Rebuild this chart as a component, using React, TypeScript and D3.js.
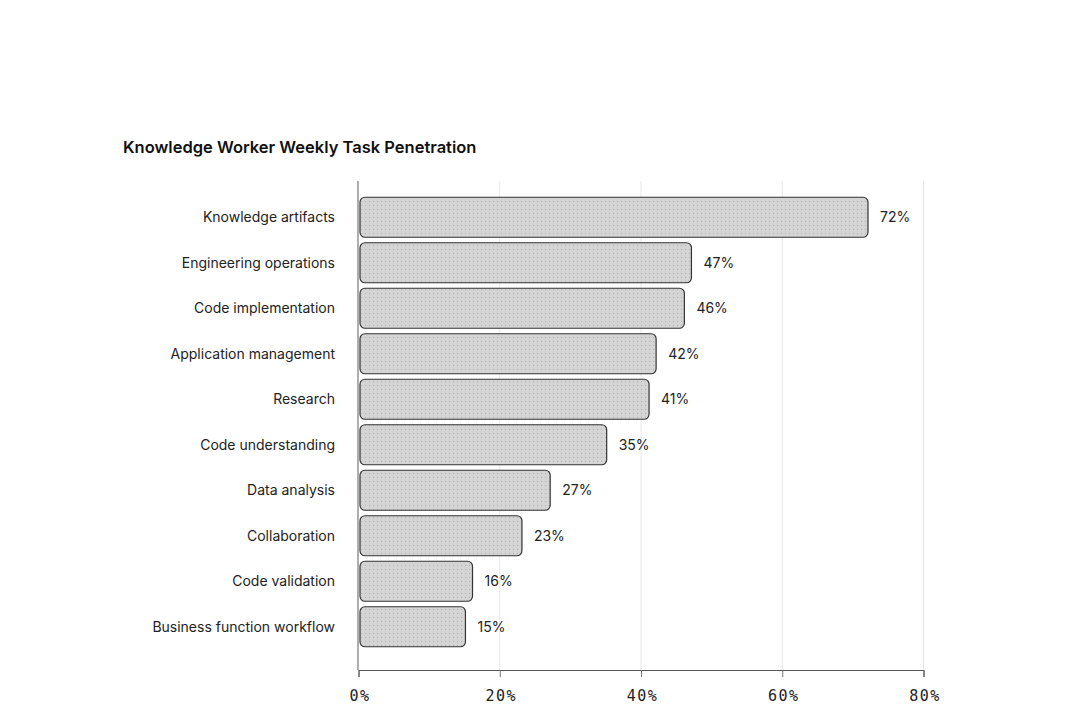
import React, { useEffect, useRef } from "react";
import * as d3 from "d3";

const categories = [
  "Knowledge artifacts",
  "Engineering operations",
  "Code implementation",
  "Application management",
  "Research",
  "Code understanding",
  "Data analysis",
  "Collaboration",
  "Code validation",
  "Business function workflow",
];
const values = [72, 47, 46, 42, 41, 35, 27, 23, 16, 15];
const ticks = [0, 20, 40, 60, 80];
const title = "Knowledge Worker Weekly Task Penetration";

const App = () => {
  const ref = useRef<SVGSVGElement>(null);

  useEffect(() => {
    const svg = d3.select(ref.current);
    svg.selectAll("*").remove();

    const x = d3.scaleLinear().domain([0, 80]).range([358.5, 923.5]);
    const y = d3
      .scaleBand()
      .domain(categories)
      .range([194.5, 649.5])
      .paddingInner(0.12)
      .paddingOuter(0.06);

    const defs = svg.append("defs");
    const pat = defs
      .append("pattern")
      .attr("id", "dots")
      .attr("width", 4)
      .attr("height", 4)
      .attr("patternUnits", "userSpaceOnUse");
    pat.append("rect").attr("width", 4).attr("height", 4).attr("fill", "#d4d4d4");
    pat.append("rect").attr("x", 1).attr("y", 1).attr("width", 1).attr("height", 1).attr("fill", "#b4b4b4");

    svg
      .append("text")
      .attr("x", 123)
      .attr("y", 153)
      .attr("font-family", "Inter, sans-serif")
      .attr("font-weight", 600)
      .attr("font-size", 16.5)
      .attr("fill", "#111")
      .text(title);

    // gridlines
    svg
      .append("g")
      .selectAll("line")
      .data(ticks.slice(1))
      .join("line")
      .attr("x1", (d) => x(d))
      .attr("x2", (d) => x(d))
      .attr("y1", 181)
      .attr("y2", 670)
      .attr("stroke", "#e8e8e8")
      .attr("stroke-width", 1);

    // bars
    svg
      .append("g")
      .selectAll("rect")
      .data(values)
      .join("rect")
      .attr("x", x(0) + 1.5)
      .attr("y", (d, i) => y(categories[i])!)
      .attr("width", (d) => x(d) - x(0) - 0.5)
      .attr("height", y.bandwidth())
      .attr("rx", 5)
      .attr("fill", "url(#dots)")
      .attr("stroke", "#333")
      .attr("stroke-width", 1.2);

    // value labels
    svg
      .append("g")
      .selectAll("text")
      .data(values)
      .join("text")
      .attr("x", (d) => x(d) + 13)
      .attr("y", (d, i) => y(categories[i])! + y.bandwidth() / 2)
      .attr("dy", "0.35em")
      .attr("font-family", "Inter, sans-serif")
      .attr("font-size", 14)
      .attr("fill", "#222")
      .text((d) => `${d}%`);

    // category labels
    svg
      .append("g")
      .selectAll("text")
      .data(categories)
      .join("text")
      .attr("x", 335)
      .attr("y", (d) => y(d)! + y.bandwidth() / 2)
      .attr("dy", "0.35em")
      .attr("text-anchor", "end")
      .attr("font-family", "Inter, sans-serif")
      .attr("font-size", 14)
      .attr("fill", "#222")
      .text((d) => d);

    // y axis line
    svg
      .append("line")
      .attr("x1", 358)
      .attr("x2", 358)
      .attr("y1", 181)
      .attr("y2", 670)
      .attr("stroke", "#777")
      .attr("stroke-width", 1.2);

    // x axis
    const xAxis = svg
      .append("g")
      .attr("transform", "translate(0,670)")
      .call(
        d3
          .axisBottom(x)
          .tickValues(ticks)
          .tickSize(7)
          .tickPadding(13)
          .tickFormat((d) => `${d}%`)
      );
    xAxis.select(".domain").attr("stroke", "#555").attr("stroke-width", 1.2);
    xAxis.selectAll(".tick line").attr("stroke", "#777");
    xAxis
      .selectAll(".tick text")
      .attr("font-family", "'DejaVu Sans Mono', monospace")
      .attr("font-size", 15)
      .attr("letter-spacing", 1.5)
      .attr("dx", 1)
      .attr("fill", "#222");
  }, []);

  return (
    <svg
      ref={ref}
      width={1080}
      height={714}
      style={{ position: "absolute", left: 0, top: 0, background: "#fff" }}
    />
  );
};

export default App;
